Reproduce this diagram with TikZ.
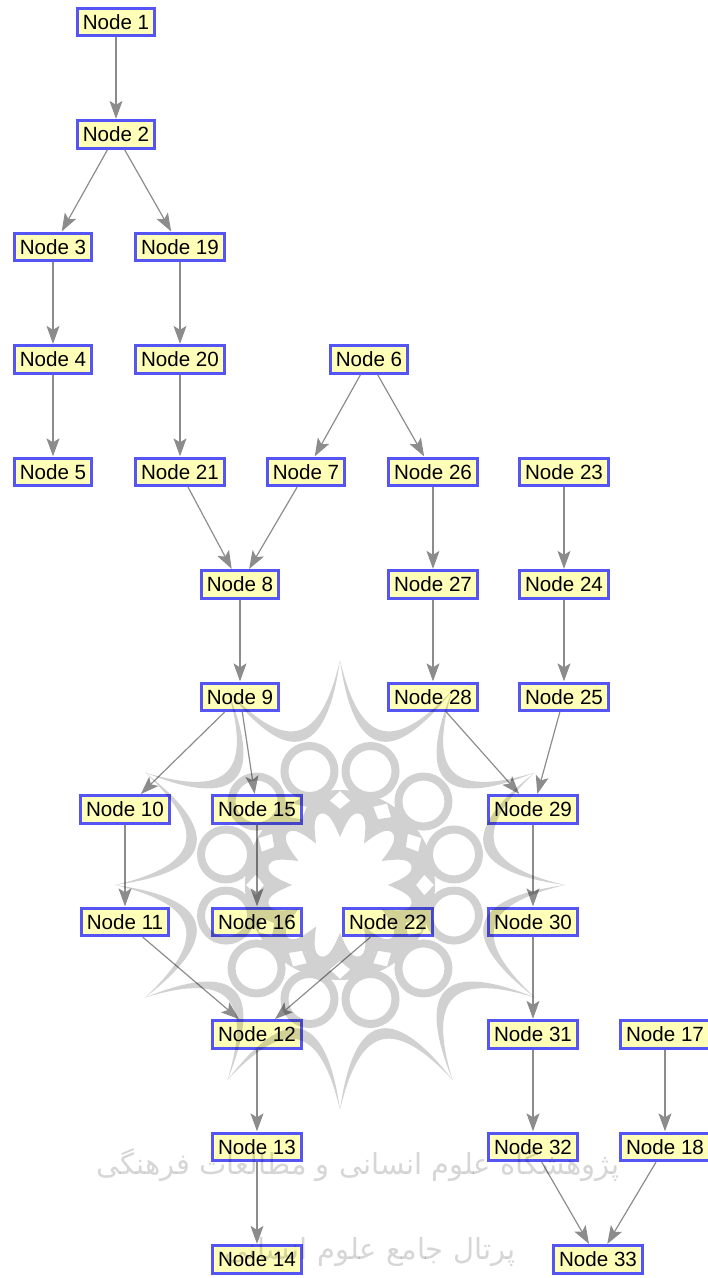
\documentclass[tikz,border=0pt]{standalone}
\usepackage{fontspec}
\setmainfont{Liberation Sans}
\newfontfamily\arabicfont[Script=Arabic]{DejaVu Sans}
\TeXXeTstate=1
\usetikzlibrary{arrows.meta}
\definecolor{nodeblue}{HTML}{5555F5}
\definecolor{nodefill}{HTML}{FFFFB8}
\definecolor{edgegray}{HTML}{8C8C8C}
\tikzset{
  nd/.style={draw=nodeblue, fill=nodefill, line width=2.8pt, inner xsep=5.6pt, inner ysep=0pt,
    minimum height=27.5pt, font=\fontsize{20.6}{24}\selectfont},
  edge/.style={draw=edgegray, line width=1.2pt, shorten >=0.5pt, -{Stealth[length=18pt,width=13pt,inset=4pt]}},
}
\begin{document}
\begin{tikzpicture}[x=1pt,y=-1pt]
    \useasboundingbox (0,0) rectangle (708,1278);
    % nodes, row by row
    \node[nd] (n1) at (116,22) {Node 1};
    \node[nd] (n2) at (116,134.5) {Node 2};
    \node[nd] (n3) at (53,247) {Node 3};
    \node[nd] (n19) at (180,247) {Node 19};
    \node[nd] (n4) at (53,359.5) {Node 4};
    \node[nd] (n20) at (180,359.5) {Node 20};
    \node[nd] (n6) at (369,359.5) {Node 6};
    \node[nd] (n5) at (53,472) {Node 5};
    \node[nd] (n21) at (180,472) {Node 21};
    \node[nd] (n7) at (306,472) {Node 7};
    \node[nd] (n26) at (433,472) {Node 26};
    \node[nd] (n23) at (564,472) {Node 23};
    \node[nd] (n8) at (240,584.5) {Node 8};
    \node[nd] (n27) at (433,584.5) {Node 27};
    \node[nd] (n24) at (564,584.5) {Node 24};
    \node[nd] (n9) at (240,697) {Node 9};
    \node[nd] (n28) at (433,697) {Node 28};
    \node[nd] (n25) at (564,697) {Node 25};
    \node[nd] (n10) at (125,809.5) {Node 10};
    \node[nd] (n15) at (257,809.5) {Node 15};
    \node[nd] (n29) at (533,809.5) {Node 29};
    \node[nd] (n11) at (125,922) {Node 11};
    \node[nd] (n16) at (257,922) {Node 16};
    \node[nd] (n22) at (388,922) {Node 22};
    \node[nd] (n30) at (533,922) {Node 30};
    \node[nd] (n12) at (257,1034.5) {Node 12};
    \node[nd] (n31) at (533,1034.5) {Node 31};
    \node[nd] (n17) at (665,1034.5) {Node 17};
    \node[nd] (n13) at (257,1147) {Node 13};
    \node[nd] (n32) at (533,1147) {Node 32};
    \node[nd] (n18) at (665,1147) {Node 18};
    \node[nd] (n14) at (257,1259.5) {Node 14};
    \node[nd] (n33) at (598,1259.5) {Node 33};

    % connectors
    \draw[edge] (n1) -- (n2);
    \draw[edge] (n2) -- (n3);
    \draw[edge] (n2) -- (n19);
    \draw[edge] (n3) -- (n4);
    \draw[edge] (n4) -- (n5);
    \draw[edge] (n19) -- (n20);
    \draw[edge] (n20) -- (n21);
    \draw[edge] (n6) -- (n7);
    \draw[edge] (n6) -- (n26);
    \draw[edge] (n21) -- (n8);
    \draw[edge] (n7) -- (n8);
    \draw[edge] (n26) -- (n27);
    \draw[edge] (n27) -- (n28);
    \draw[edge] (n23) -- (n24);
    \draw[edge] (n24) -- (n25);
    \draw[edge] (n8) -- (n9);
    \draw[edge] (n9) -- (n10);
    \draw[edge] (n9) -- (n15);
    \draw[edge] (n28) -- (n29);
    \draw[edge] (n25) -- (n29);
    \draw[edge] (n10) -- (n11);
    \draw[edge] (n15) -- (n16);
    \draw[edge] (n29) -- (n30);
    \draw[edge] (n11) -- (n12);
    \draw[edge] (n22) -- (n12);
    \draw[edge] (n30) -- (n31);
    \draw[edge] (n12) -- (n13);
    \draw[edge] (n31) -- (n32);
    \draw[edge] (n17) -- (n18);
    \draw[edge] (n13) -- (n14);
    \draw[edge] (n32) -- (n33);
    \draw[edge] (n18) -- (n33);

    % watermark, over everything
    \begin{scope}[shift={(340,885)}, transparency group, opacity=.18, y=1pt]
        \foreach \a in {0,30,...,330} {
            \fill[black] (\a:225) .. controls (\a+8:142) and (\a+22:142) .. (\a+30:225)
                .. controls (\a+24:128) and (\a+6:128) .. cycle;
            \draw[black, line width=8pt] (\a+15:118) circle (25);
        }
        % ring round the white flower, with its small diamonds
        \fill[black, even odd rule] (0,0) circle (95)
            (0:48) \foreach \a in {0,30,...,330} {
                .. controls (\a+5:60) and (\a+8:74) .. (\a+15:74)
                .. controls (\a+22:74) and (\a+25:60) .. (\a+30:48)
            } -- cycle
            \foreach \a in {0,30,...,330} {
                (\a:76) -- (\a+7:85) -- (\a:94) -- (\a-7:85) -- cycle
            };
    \end{scope}
    \node[opacity=.16, font=\fontsize{29}{36}\selectfont\arabicfont] (wm1) at (358,1165)
        {\beginR پژوهشگاه علوم انسانی و مطالعات فرهنگی\endR};
    \node[opacity=.16, font=\fontsize{29}{36}\selectfont\arabicfont] (wm2) at (370,1252)
        {\beginR پرتال جامع علوم انسانی\endR};
\end{tikzpicture}
\end{document}
